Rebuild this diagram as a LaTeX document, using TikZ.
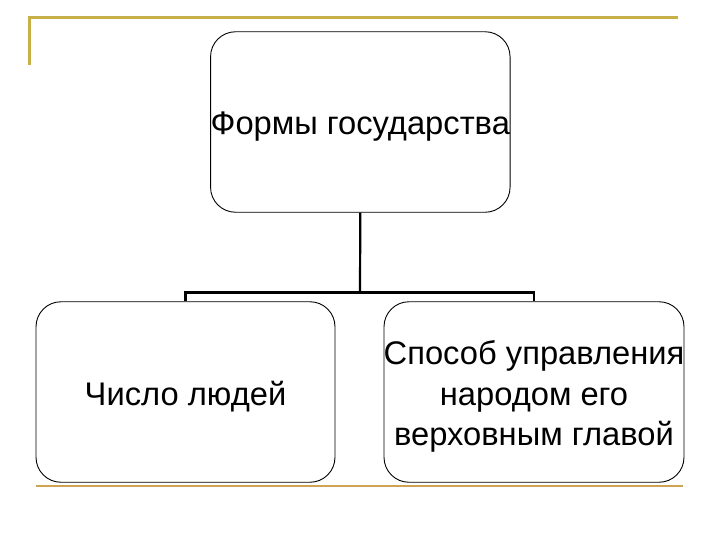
\documentclass[tikz,border=0pt]{standalone}
\usepackage{fontspec}
\setmainfont{Liberation Sans}
\begin{document}
\begin{tikzpicture}[x=1pt,y=-1pt,
  box/.style={draw=black,line width=0.9pt,rounded corners=25pt,inner sep=0pt,minimum height=180.5pt},
  lbl/.style={align=center,inner sep=0pt,font=\fontsize{32.7}{40.5}\selectfont},
  conn/.style={draw=black,line width=2.2pt},
  gold/.style={line width=2.4pt}]
\useasboundingbox (0,0) rectangle (720,540);
\definecolor{goldtop}{RGB}{200,176,72}
\definecolor{goldbot}{RGB}{204,164,84}
\draw[gold,draw=goldtop] (29.5,65) -- (29.5,17.5) -- (678,17.5);
\draw[gold,draw=goldbot] (36,486) -- (683,486);
\node[box,minimum width=299.5pt] (top) at (360.3,122) {};
\node[box,minimum width=299pt] (left) at (185.5,392) {};
\node[box,minimum width=300pt] (right) at (534,392) {};
\node[lbl] (toptext) at ([yshift=-4.5pt]top.center) {Формы государства};
\node[lbl] (lefttext) at ([yshift=-4.5pt]left.center) {Число людей};
\node[lbl] (righttext) at ([yshift=-4.5pt]right.center) {Способ управления\\народом его\\верховным главой};
\coordinate (j) at (360,292.5);
\coordinate (jl) at (185.5,292.5);
\coordinate (jr) at (534,292.5);
\draw[conn] (top.south) -- (j);
\draw[conn] (left.north) -- (jl) -- (jr) -- (right.north);
\end{tikzpicture}
\end{document}
